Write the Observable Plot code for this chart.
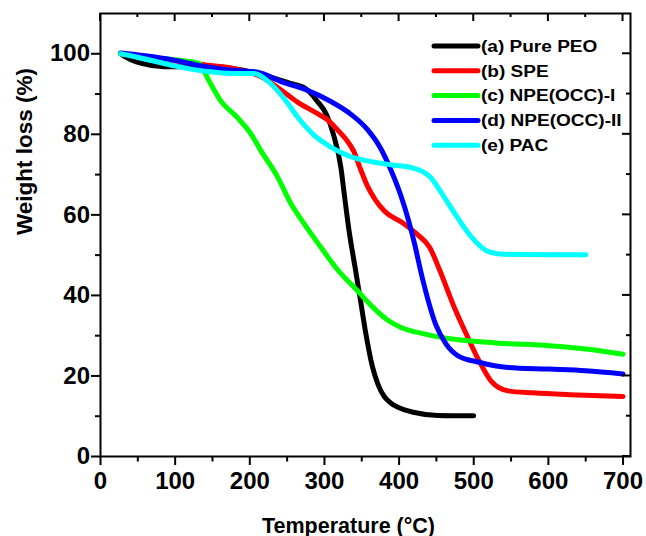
<!DOCTYPE html>
<html><head><meta charset="utf-8">
<script src="https://cdn.jsdelivr.net/npm/d3@7"></script>
<script src="https://cdn.jsdelivr.net/npm/@observablehq/plot@0.6"></script>
<style>body{margin:0;background:#fff}</style>
</head><body><div id="chart"></div>
<script>
const seriesNames = ["(a) Pure PEO", "(b) SPE", "(c) NPE(OCC)-I", "(d) NPE(OCC)-II", "(e) PAC"];
const seriesColors = ["#000000", "#ff0000", "#00ff00", "#0000ff", "#00ffff"];

const tA = [27, 40, 55, 85, 115, 143, 175, 209, 253, 275, 290, 303, 312, 322, 327, 333, 341, 348.5, 355, 364, 372, 380, 390, 400, 419, 452, 500];
const wA = [100, 98.6, 97.6, 96.8, 96.8, 96.9, 96.4, 95.2, 92.7, 91.3, 88.3, 84.8, 80, 71.8, 64.5, 56, 47, 38.5, 31, 22.5, 17.8, 14.9, 13.1, 12.1, 11.0, 10.2, 10.1];

const tB = [27, 60, 100, 132, 176, 215, 242, 264, 292, 304, 317, 330, 339, 348, 358, 368, 380, 405, 424, 441, 455, 474, 490, 507, 523, 546, 579, 639, 700];
const wB = [100, 99, 98.2, 97.4, 96.4, 94.3, 91, 88, 85, 83.6, 81.2, 78.5, 75.9, 71.5, 67, 63.8, 61, 58, 55.2, 51.9, 46, 37, 30.4, 23.8, 18.8, 16.3, 15.8, 15.3, 14.9];

const tC = [27, 60, 99, 132, 140, 148, 161, 181, 203, 214, 237, 255, 275, 295, 317, 344, 363, 386, 402, 435, 474, 529, 601, 650, 700];
const wC = [100, 99.2, 98.5, 97.6, 95.2, 92.4, 88.3, 84.6, 79.7, 76.2, 69.5, 62.8, 57.2, 52, 46.5, 41.2, 37.4, 33.7, 32.1, 30.4, 29.1, 28.2, 27.5, 26.7, 25.4];

const tD = [27, 60, 99, 143, 176, 209, 242, 275, 308, 336, 358, 375, 388, 402, 413, 421, 429, 438, 449, 463, 479, 507, 546, 601, 650, 700];
const wD = [100.2, 99.5, 98.4, 96.7, 95.9, 95.5, 93.1, 91.1, 88.2, 84.9, 81.1, 76.6, 71.6, 65, 58.4, 52.6, 46, 39.4, 32.8, 27.9, 25, 23.4, 22.1, 21.7, 21.3, 20.5];

const tE = [27, 60, 99, 143, 176, 206, 226, 248, 264, 286, 308, 336, 363, 391, 419, 441, 457, 474, 496, 518, 540, 600, 650];
const wE = [100, 98.7, 97, 95.6, 95.1, 95.1, 92.9, 88.4, 84.3, 79.8, 76.9, 74.4, 73.2, 72.4, 71.6, 69.5, 65.4, 60.5, 54.7, 51, 50.2, 50.1, 50.1];

const xMajor = [0, 100, 200, 300, 400, 500, 600, 700];
const xMinor = [50, 150, 250, 350, 450, 550, 650];
const yMajor = [0, 20, 40, 60, 80, 100];
const yMinor = [10, 30, 50, 70, 90];

const temps = [tA, tB, tC, tD, tE];
const weights = [wA, wB, wC, wD, wE];
const rows = seriesNames.flatMap((name, k) => temps[k].map((t, i) => ({series: name, t, w: weights[k][i]})));

const FONT = "'Liberation Sans', Arial, Helvetica, sans-serif";

function innerTicks(index, scales, values, dims) {
  const {x, y} = scales;
  const g = d3.create("svg:g").attr("stroke", "black").attr("stroke-width", 2);
  const top = dims.marginTop, right = dims.width - dims.marginRight;
  for (const t of xMajor) g.append("line").attr("x1", x(t)).attr("x2", x(t)).attr("y1", top).attr("y2", top + 8);
  for (const t of xMinor) g.append("line").attr("x1", x(t)).attr("x2", x(t)).attr("y1", top).attr("y2", top + 4);
  for (const v of yMajor) g.append("line").attr("y1", y(v)).attr("y2", y(v)).attr("x1", right).attr("x2", right - 8);
  for (const v of yMinor) g.append("line").attr("y1", y(v)).attr("y2", y(v)).attr("x1", right).attr("x2", right - 4);
  return g.node();
}

function legend(index, scales, values, dims) {
  const g = d3.create("svg:g").attr("font-family", FONT).attr("font-weight", "bold").attr("font-size", 16).attr("text-anchor", "start");
  seriesNames.forEach((name, i) => {
    const cy = 46 + i * 24.8;
    g.append("line").attr("x1", 434).attr("x2", 478).attr("y1", cy).attr("y2", cy)
      .attr("stroke", seriesColors[i]).attr("stroke-width", 5).attr("stroke-linecap", "round");
    g.append("text").attr("text-anchor", "start").attr("transform", `translate(481,${cy}) scale(1.19,1)`).attr("dy", "0.36em").attr("fill", "black").text(name);
  });
  return g.node();
}

const chart = Plot.plot({
  width: 646,
  height: 536,
  marginLeft: 100,
  marginRight: 16,
  marginTop: 13,
  marginBottom: 80,
  style: {fontFamily: FONT, fontWeight: "bold", background: "white", color: "black"},
  x: {domain: [0, 710]},
  y: {domain: [0, 110]},
  color: {domain: seriesNames, range: seriesColors},
  marks: [
    Plot.line(rows, {x: "t", y: "w", z: "series", stroke: "series", strokeWidth: 5, curve: "monotone-x", strokeLinejoin: "round", strokeLinecap: "round"}),
    Plot.axisX({ticks: xMajor, tickSize: 9, tickPadding: 6, fontSize: 24, strokeWidth: 2, label: null}),
    Plot.axisX({ticks: xMinor, tickSize: 5.5, tickFormat: () => "", strokeWidth: 2, label: null}),
    Plot.axisY({ticks: yMajor, tickSize: 9, tickPadding: 1.5, fontSize: 24, strokeWidth: 2, label: null}),
    Plot.axisY({ticks: yMinor, tickSize: 5, tickFormat: () => "", strokeWidth: 2, label: null}),
    innerTicks,
    Plot.frame({stroke: "black", strokeWidth: 2}),
    Plot.text(["Temperature (°C)"], {frameAnchor: "bottom", dx: -17, dy: 76, lineAnchor: "bottom", fontSize: 21.5, fontWeight: "bold"}),
    Plot.text(["Weight loss (%)"], {frameAnchor: "left", dx: -76, rotate: -90, fontSize: 22.5, fontWeight: "bold"}),
    legend
  ]
});
document.getElementById("chart").appendChild(chart);
</script>
</body></html>
